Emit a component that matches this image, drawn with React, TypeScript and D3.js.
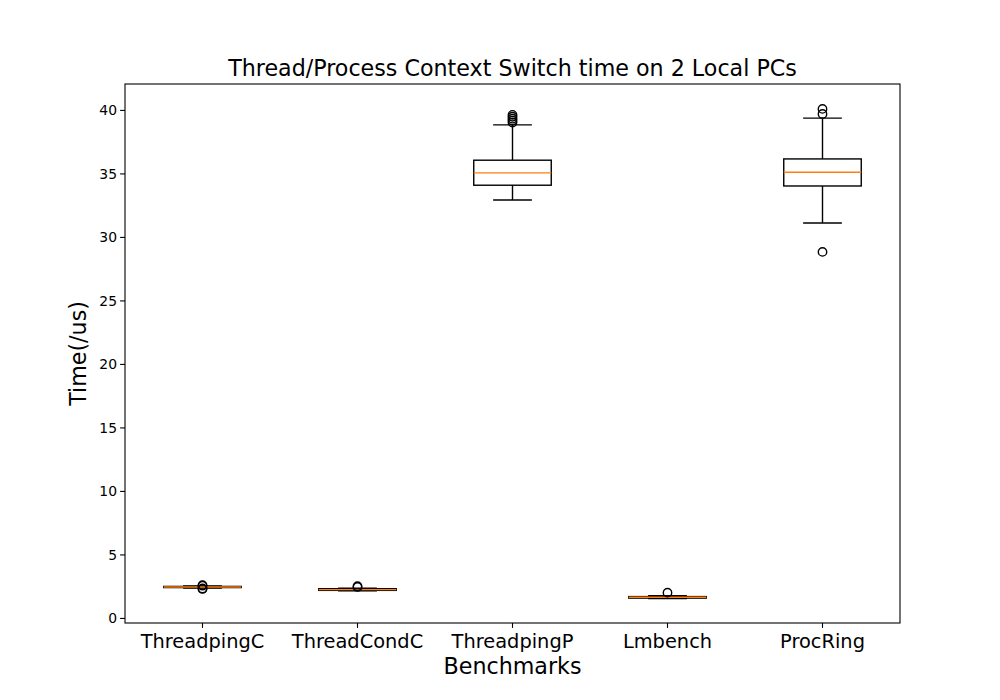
import * as d3 from "d3";

// ── Data ──────────────────────────────────────────────────
const BENCHMARKS = ["ThreadpingC", "ThreadCondC", "ThreadpingP", "Lmbench", "ProcRing"];
const WHISKER_LO = [2.40, 2.18, 32.95, 1.57, 31.14];
const Q1 = [2.43, 2.21, 34.11, 1.60, 34.05];
const MEDIAN = [2.47, 2.27, 35.08, 1.67, 35.13];
const Q3 = [2.52, 2.34, 36.08, 1.72, 36.18];
const WHISKER_HI = [2.55, 2.38, 38.86, 1.78, 39.39];
const OUTLIERS = [
  [2.32, 2.36, 2.58, 2.62],
  [2.48, 2.54],
  [39.05, 39.2, 39.35, 39.5, 39.65],
  [2.03],
  [28.86, 39.72, 40.12],
];
const Y_TICKS = [0, 5, 10, 15, 20, 25, 30, 35, 40];

// ── Layout ────────────────────────────────────────────────
const width = 1000;
const height = 700;
const margin = { top: 84, right: 100, bottom: 77, left: 125 };
const innerW = width - margin.left - margin.right;
const innerH = height - margin.top - margin.bottom;

const FONT = "DejaVu Sans, sans-serif";
const BOX_W = 0.5;
const CAP_W = 0.25;

export default function App() {
  const x = d3.scaleLinear().domain([0.5, 5.5]).range([0, innerW]);
  const y = d3.scaleLinear().domain([-0.36, 42.08]).range([innerH, 0]);
  const unit = x(1) - x(0);

  return (
    <div style={{ position: "fixed", left: 0, top: 0, background: "#fff" }}>
      <svg width={width} height={height} style={{ display: "block", fontFamily: FONT }}>
        <rect width={width} height={height} fill="#fff" />

        <text x={margin.left + innerW / 2} y={76} textAnchor="middle" fontSize={22.2} fill="#000">
          Thread/Process Context Switch time on 2 Local PCs
        </text>

        <g transform={`translate(${margin.left},${margin.top})`}>
          {/* boxes */}
          {BENCHMARKS.map((name, i) => {
            const cx = x(i + 1);
            const bw = BOX_W * unit;
            const cw = CAP_W * unit;
            return (
              <g key={name} fill="none" stroke="#000" strokeWidth={1.4}>
                <line x1={cx} x2={cx} y1={y(Q1[i])} y2={y(WHISKER_LO[i])} />
                <line x1={cx} x2={cx} y1={y(Q3[i])} y2={y(WHISKER_HI[i])} />
                <line x1={cx - cw / 2} x2={cx + cw / 2} y1={y(WHISKER_LO[i])} y2={y(WHISKER_LO[i])} />
                <line x1={cx - cw / 2} x2={cx + cw / 2} y1={y(WHISKER_HI[i])} y2={y(WHISKER_HI[i])} />
                <rect x={cx - bw / 2} y={y(Q3[i])} width={bw} height={y(Q1[i]) - y(Q3[i])} />
                <line x1={cx - bw / 2} x2={cx + bw / 2} y1={y(MEDIAN[i])} y2={y(MEDIAN[i])}
                  stroke="#ff7f0e" />
                {OUTLIERS[i].map((v, j) => (
                  <circle key={j} cx={cx} cy={y(v)} r={4.2} />
                ))}
              </g>
            );
          })}

          {/* y axis */}
          {Y_TICKS.map((t) => (
            <g key={t} transform={`translate(0,${y(t)})`}>
              <line x1={-4.9} x2={0} stroke="#000" strokeWidth={1.1} />
              <text x={-8} dy="0.35em" textAnchor="end" fontSize={13.9} fill="#000">{t}</text>
            </g>
          ))}

          {/* x axis */}
          {BENCHMARKS.map((name, i) => (
            <g key={name} transform={`translate(${x(i + 1)},${innerH})`}>
              <line y1={0} y2={4.9} stroke="#000" strokeWidth={1.1} />
              <text y={25} textAnchor="middle" fontSize={19.4} fill="#000">{name}</text>
            </g>
          ))}

          <rect x={0} y={0} width={innerW} height={innerH} fill="none" stroke="#000" strokeWidth={1.1} />
        </g>

        <text x={margin.left + innerW / 2} y={674} textAnchor="middle" fontSize={22.2} fill="#000">
          Benchmarks
        </text>
        <text transform={`translate(86,${margin.top + innerH / 2}) rotate(-90)`} textAnchor="middle"
          fontSize={22.2} fill="#000">
          Time(/us)
        </text>
      </svg>
    </div>
  );
}
